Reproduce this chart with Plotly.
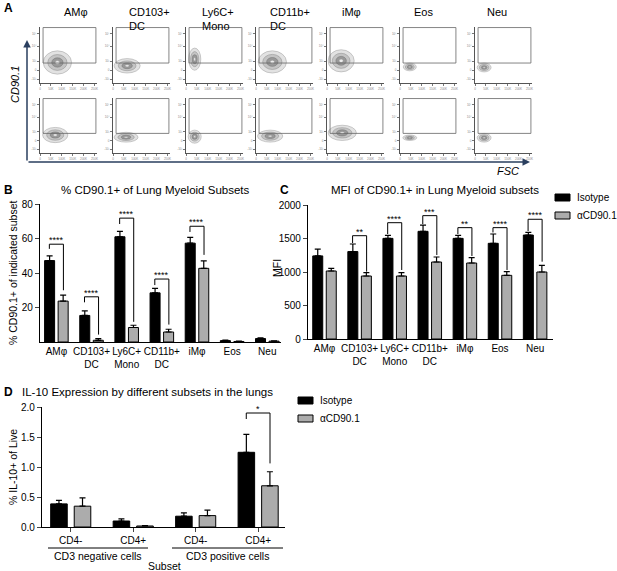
import plotly.graph_objects as go

W, H = 617, 571
FONT = "Liberation Sans, Arial, sans-serif"


def px(x):
    return x / W


def py(y):
    return 1 - y / H


# ---- Panel A: flow plots (FSC vs CD90.1), blob centre / half-size per population
populations = ["AMφ", "CD103+<br>DC", "Ly6C+<br>Mono", "CD11b+<br>DC", "iMφ", "Eos", "Neu"]
iso_fsc = [80, 65, 40, 75, 65, 45, 42]
iso_cd90 = [37, 31, 43, 38, 40, 29, 28]
iso_fsc_spread = [65, 60, 28, 65, 60, 30, 32]
iso_cd90_spread = [21, 13, 20, 20, 20, 7, 8]
anti_fsc = [70, 60, 40, 65, 70, 45, 42]
anti_cd90 = [33, 29, 30, 31, 37, 28, 28]
anti_fsc_spread = [58, 55, 30, 58, 65, 32, 32]
anti_cd90_spread = [14, 9, 12, 11, 14, 5, 8]
gate_fsc = [14, 257]
gate_cd90 = [36, 100]
fsc_ticks = [0, 50, 100, 150, 200, 250]
fsc_labels = ["0", "50K", "100K", "150K", "200K", "250K"]
cd90_ticks = [7, 23, 39, 66, 89]
cd90_labels = ["-10³", "0", "10³", "10⁴", "10⁵"]

# ---- Panel B: % CD90.1+
myeloid = ["AMφ", "CD103+<br>DC", "Ly6C+<br>Mono", "CD11b+<br>DC", "iMφ", "Eos", "Neu"]
pct_iso = [47.2, 15.4, 61.0, 28.5, 57.3, 0.8, 2.0]
pct_iso_err = [2.7, 2.7, 3.1, 2.6, 3.3, 0.3, 0.4]
pct_anti = [23.7, 1.0, 8.4, 5.8, 42.7, 0.3, 0.5]
pct_anti_err = [3.5, 1.0, 1.3, 1.6, 4.3, 0.2, 0.2]
pct_sig_idx = [0, 1, 2, 3, 4]
pct_sig_top = [56.7, 26.2, 71.8, 36.5, 67.1]
pct_sig_left = [54, 23, 68.4, 33, 63.8]
pct_sig_right = [30, 4.3, 11.7, 10.1, 50.5]
pct_sig_text = ["****", "****", "****", "****", "****"]

# ---- Panel C: MFI
mfi_iso = [1240, 1305, 1502, 1607, 1502, 1428, 1552]
mfi_iso_err = [100, 113, 45, 94, 45, 139, 40]
mfi_anti = [1015, 940, 940, 1149, 1134, 950, 1000]
mfi_anti_err = [40, 50, 50, 75, 80, 55, 100]
mfi_sig_idx = [1, 2, 3, 4, 5, 6]
mfi_sig_top = [1542, 1736, 1841, 1662, 1662, 1787]
mfi_sig_left = [1433, 1567, 1716, 1567, 1590, 1612]
mfi_sig_right = [1005, 1030, 1254, 1239, 1030, 1154]
mfi_sig_text = ["**", "****", "***", "**", "****", "****"]

# ---- Panel D: IL-10
il10_subsets = ["CD4-", "CD4+", "CD4-", "CD4+"]
il10_iso = [0.385, 0.10, 0.18, 1.245]
il10_iso_err = [0.06, 0.034, 0.056, 0.30]
il10_anti = [0.347, 0.017, 0.19, 0.687]
il10_anti_err = [0.14, 0.005, 0.09, 0.234]
il10_sig_idx = [3]
il10_sig_top = [1.90]
il10_sig_left = [1.80]
il10_sig_right = [1.06]
il10_sig_text = ["*"]

GRAY = "#acacac"

fig = go.Figure()
axes = {}
shapes = []
annotations = []


def ax_names(n):
    return ("x" if n == 1 else f"x{n}", "y" if n == 1 else f"y{n}",
            "xaxis" if n == 1 else f"xaxis{n}", "yaxis" if n == 1 else f"yaxis{n}")


def label(text, x, y, size=10.5, xanchor="center", yanchor="middle", angle=0, align="center"):
    annotations.append(dict(x=px(x), y=py(y), xref="paper", yref="paper", text=text,
                            showarrow=False, xanchor=xanchor, yanchor=yanchor,
                            textangle=angle, align=align, font=dict(size=size)))


# Panel A small plots
col_left = [40, 113, 186, 256, 327, 400, 475]
title_shift = [22, 14, 14, 12, 13, 12, 10]
plot_w = 57
row_top = [27, 98]
row_bot = [83, 153]
rows = [
    (iso_fsc, iso_cd90, iso_fsc_spread, iso_cd90_spread),
    (anti_fsc, anti_cd90, anti_fsc_spread, anti_cd90_spread),
]
levels = [(1.0, "#e2e2e2", "#9c9c9c"), (0.68, "#c4c4c4", "#8a8a8a"),
          (0.4, "#999999", "#6e6e6e"), (0.16, "#ececec", "#909090")]

for r in range(2):
    fx, fy, sx, sy = rows[r]
    for c in range(7):
        n = r * 7 + c + 1
        xr, yr, xk, yk = ax_names(n)
        axes[xk] = dict(domain=[px(col_left[c]), px(col_left[c] + plot_w)], range=[0, 262],
                        anchor=yr, showline=True, linecolor="#555", linewidth=0.8,
                        ticks="outside", ticklen=2, tickwidth=0.6, tickcolor="#777",
                        tickvals=fsc_ticks, ticktext=fsc_labels, automargin=False,
                        tickfont=dict(size=3, color="#888"), showgrid=False, zeroline=False)
        axes[yk] = dict(domain=[py(row_bot[r]), py(row_top[r])], range=[0, 101],
                        anchor=xr, showline=True, linecolor="#555", linewidth=0.8,
                        ticks="outside", ticklen=2, tickwidth=0.6, tickcolor="#777",
                        tickvals=cd90_ticks, ticktext=cd90_labels, automargin=False,
                        tickfont=dict(size=3, color="#888"), showgrid=False, zeroline=False)
        fig.add_trace(go.Scatter(x=[fx[c]], y=[fy[c]], xaxis=xr, yaxis=yr, mode="markers",
                                 marker=dict(size=1, opacity=0), showlegend=False,
                                 hoverinfo="skip"))
        for scale, fill, line in levels:
            shapes.append(dict(type="circle", xref=xr, yref=yr, layer="below",
                               x0=fx[c] - sx[c] * scale, x1=fx[c] + sx[c] * scale,
                               y0=fy[c] - sy[c] * scale, y1=fy[c] + sy[c] * scale,
                               fillcolor=fill, line=dict(color=line, width=0.5)))
        shapes.append(dict(type="rect", xref=xr, yref=yr, x0=gate_fsc[0], x1=gate_fsc[1],
                           y0=gate_cd90[0], y1=gate_cd90[1], line=dict(color="#666", width=0.8)))
        if r == 0:
            label(populations[c], col_left[c] + title_shift[c], 4, size=11,
                  xanchor="left", yanchor="top", align="left")

# big arrows of panel A
annotations.append(dict(x=px(27), y=py(40), xref="paper", yref="paper", ax=0, ay=122,
                        showarrow=True, arrowhead=2, arrowsize=1, arrowwidth=1.5, text=""))
annotations.append(dict(x=px(530), y=py(162), xref="paper", yref="paper", ax=-503, ay=0,
                        showarrow=True, arrowhead=2, arrowsize=1, arrowwidth=1.5, text=""))
label("<i>CD90.1</i>", 15, 85, size=11, angle=-90)
label("<i>FSC</i>", 508, 171, size=11)


def bar_panel(n, cats_n, iso, iso_err, anti, anti_err, off, wid):
    xr, yr, _, _ = ax_names(n)
    pos = list(range(cats_n))
    fig.add_trace(go.Bar(x=pos, y=iso, offset=-off - wid, width=wid, xaxis=xr, yaxis=yr,
                         marker=dict(color="black", line=dict(color="black", width=1)),
                         error_y=dict(type="data", array=iso_err, arrayminus=[0] * cats_n,
                                      symmetric=False, color="black", thickness=1.2, width=3),
                         showlegend=False))
    fig.add_trace(go.Bar(x=pos, y=anti, offset=off, width=wid, xaxis=xr, yaxis=yr,
                         marker=dict(color=GRAY, line=dict(color="black", width=1)),
                         error_y=dict(type="data", array=anti_err, arrayminus=[0] * cats_n,
                                      symmetric=False, color="black", thickness=1.2, width=3),
                         showlegend=False))


def brackets(n, idx, top, left, right, text, half, fsize):
    xr, yr, _, _ = ax_names(n)
    for i, c in enumerate(idx):
        fig.add_trace(go.Scatter(x=[c - half, c - half, c + half, c + half],
                                 y=[left[i], top[i], top[i], right[i]], mode="lines",
                                 line=dict(color="black", width=1), xaxis=xr, yaxis=yr,
                                 showlegend=False, hoverinfo="skip"))
        annotations.append(dict(x=c, y=top[i], xref=xr, yref=yr, text=text[i], showarrow=False,
                                xanchor="center", yanchor="bottom", yshift=-3,
                                font=dict(size=fsize)))


axis_style = dict(showline=True, linecolor="black", linewidth=1.2, showgrid=False,
                  zeroline=False, tickfont=dict(size=10), automargin=False)

# Panel B
bar_panel(15, 7, pct_iso, pct_iso_err, pct_anti, pct_anti_err, 0.05, 0.285)
brackets(15, pct_sig_idx, pct_sig_top, pct_sig_left, pct_sig_right, pct_sig_text, 0.2, 9)
axes["xaxis15"] = dict(axis_style, domain=[px(40), px(281)], range=[-0.466, 6.39], anchor="y15",
                       tickvals=list(range(7)), ticktext=myeloid, ticks="", tickangle=0)
axes["yaxis15"] = dict(axis_style, domain=[py(342), py(204)], range=[0, 80], anchor="x15",
                       tickvals=[20, 40, 60, 80], ticks="outside", ticklen=4, tickwidth=1.2)

# Panel C
bar_panel(16, 7, mfi_iso, mfi_iso_err, mfi_anti, mfi_anti_err, 0.05, 0.285)
brackets(16, mfi_sig_idx, mfi_sig_top, mfi_sig_left, mfi_sig_right, mfi_sig_text, 0.2, 9)
axes["xaxis16"] = dict(axis_style, domain=[px(308), px(553)], range=[-0.47, 6.51], anchor="y16",
                       tickvals=list(range(7)), ticktext=myeloid, ticks="", tickangle=0)
axes["yaxis16"] = dict(axis_style, domain=[py(339), py(205)], range=[0, 2000], anchor="x16",
                       tickvals=[0, 500, 1000, 1500, 2000], ticks="outside", ticklen=4,
                       tickwidth=1.2)

# Panel D
bar_panel(17, 4, il10_iso, il10_iso_err, il10_anti, il10_anti_err, 0.056, 0.265)
brackets(17, il10_sig_idx, il10_sig_top, il10_sig_left, il10_sig_right, il10_sig_text, 0.19, 9)
axes["xaxis17"] = dict(axis_style, domain=[px(42), px(285)], range=[-0.46, 3.43], anchor="y17",
                       tickvals=list(range(4)), ticktext=il10_subsets, ticks="outside",
                       ticklen=4, tickwidth=1.2, tickangle=0)
axes["yaxis17"] = dict(axis_style, domain=[py(527), py(407)], range=[0, 2.0], anchor="x17",
                       tickvals=[0, 0.5, 1.0, 1.5, 2.0], tickformat=".1f", ticks="outside",
                       ticklen=4, tickwidth=1.2)

# group lines under panel D
for x0, x1, text in [(48, 148, "CD3 negative cells"), (172, 283, "CD3 positive cells")]:
    shapes.append(dict(type="line", xref="paper", yref="paper", x0=px(x0), x1=px(x1),
                       y0=py(548), y1=py(548), line=dict(color="black", width=1)))
    label(text, (x0 + x1) / 2, 556)
label("Subset", 165, 566)

# titles and labels
label("<b>A</b>", 2, 8, size=12, xanchor="left")
label("<b>B</b>", 2, 190, size=12, xanchor="left")
label("<b>C</b>", 278, 190, size=12, xanchor="left")
label("<b>D</b>", 2, 392, size=12, xanchor="left")
label("% CD90.1+ of Lung Myeloid Subsets", 156, 190, size=11.5)
label("MFI of CD90.1+ in Lung Myeloid subsets", 435, 190, size=11.5)
label("IL-10 Expression by different subsets in the lungs", 20, 392, size=11.5, xanchor="left")
label("% CD90.1+ of indicated subset", 13, 273, angle=-90)
label("MFI", 277, 268, angle=-90)
label("% IL-10+ of Live", 13, 467, angle=-90)

# legends for C and D
for lx, ly in [(555, 194), (298, 397)]:
    for k, (text, fill) in enumerate([("Isotype", "black"), ("αCD90.1", GRAY)]):
        y0 = ly + k * 18
        shapes.append(dict(type="rect", xref="paper", yref="paper", x0=px(lx), x1=px(lx + 15),
                           y0=py(y0 + 7), y1=py(y0), fillcolor=fill,
                           line=dict(color="black", width=1)))
        label(text, lx + 20, y0 + 3.5, size=10, xanchor="left")

fig.update_layout(
    width=W, height=H, autosize=False,
    margin=dict(l=0, r=0, t=0, b=0, pad=0),
    plot_bgcolor="white", paper_bgcolor="white",
    font=dict(family=FONT, size=10, color="black"),
    barmode="overlay",
    showlegend=False,
    shapes=shapes,
    annotations=annotations,
    **axes,
)

fig.write_html("out.html", config={"displayModeBar": False},
               post_script="document.body.style.margin = '0';")
